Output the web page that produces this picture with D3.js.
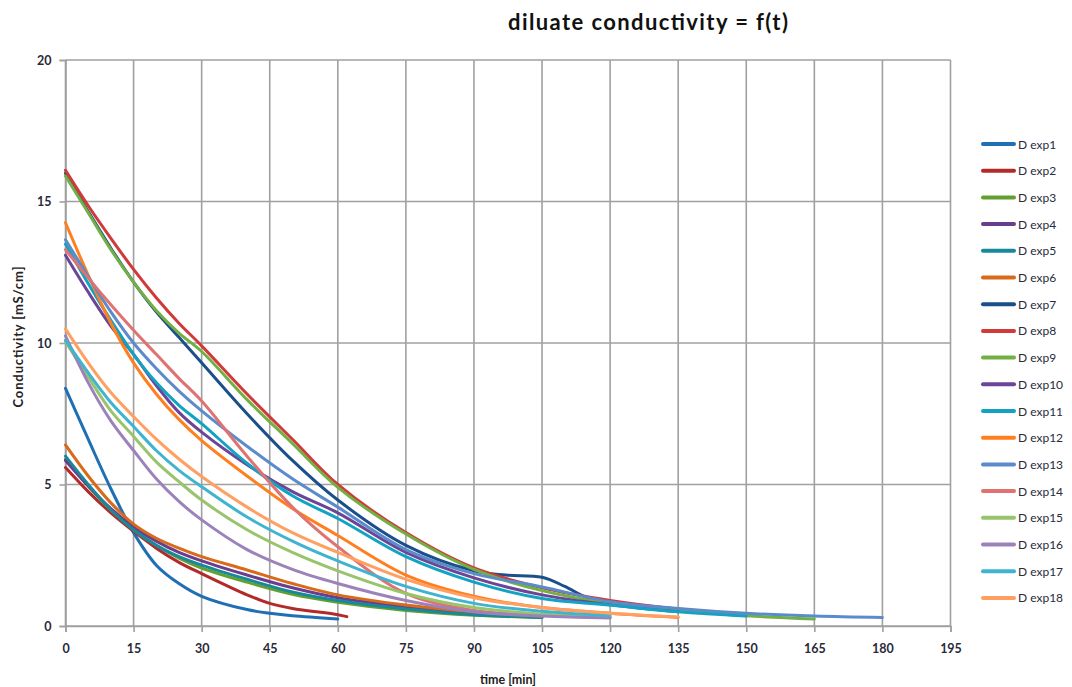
<!DOCTYPE html>
<html>
<head>
<meta charset="utf-8">
<script src="https://cdn.jsdelivr.net/npm/d3@7"></script>
<style>
  html, body { margin: 0; padding: 0; background: #fff; }
  svg { display: block; }
</style>
</head>
<body>
<svg id="chart" width="1072" height="687"></svg>
<script>
// ---------------- DATA ----------------
const chartTitle = "diluate conductivity = f(t)";
const xTitle = "time [min]";
const yTitle = "Conductivity [mS/cm]";
const xTicks = [0, 15, 30, 45, 60, 75, 90, 105, 120, 135, 150, 165, 180, 195];
const yTicks = [0, 5, 10, 15, 20];
const seriesNames = ["D exp1","D exp2","D exp3","D exp4","D exp5","D exp6","D exp7","D exp8","D exp9",
  "D exp10","D exp11","D exp12","D exp13","D exp14","D exp15","D exp16","D exp17","D exp18"];

// common time grid [min]; a series ends where its value list ends
const timeGrid = [0, 5, 10, 15, 20, 25, 30, 40, 50, 60, 75, 90, 105, 120, 135, 150, 165, 180];
const timeDexp1 = [0, 5, 10, 15, 20, 25, 30, 40, 45, 50, 60];
const timeDexp2 = [0, 5, 10, 15, 20, 25, 30, 40, 45, 50, 60, 62];
const timeDexp7 = [0, 5, 10, 15, 20, 25, 30, 40, 50, 60, 75, 90, 97, 105, 110, 115, 120];

const dexp1  = [8.4, 6.6, 4.85, 3.3, 2.15, 1.5, 1.05, 0.58, 0.45, 0.36, 0.25];
const dexp2  = [5.6, 4.75, 4.0, 3.35, 2.75, 2.25, 1.85, 1.1, 0.8, 0.62, 0.4, 0.33];
const dexp3  = [5.9, 4.95, 4.1, 3.4, 2.85, 2.4, 2.05, 1.55, 1.12, 0.84, 0.55, 0.38, 0.3];
const dexp4  = [5.85, 4.95, 4.15, 3.5, 3.0, 2.6, 2.3, 1.8, 1.35, 1.0, 0.68, 0.45, 0.32];
const dexp5  = [6.0, 5.0, 4.1, 3.4, 2.85, 2.45, 2.15, 1.65, 1.2, 0.9, 0.6, 0.4, 0.3];
const dexp6  = [6.4, 5.3, 4.35, 3.6, 3.1, 2.75, 2.45, 1.98, 1.5, 1.1, 0.74, 0.5, 0.35];
const dexp7  = [16.0, 14.65, 13.35, 12.15, 11.1, 10.2, 9.3, 7.5, 5.85, 4.45, 2.85, 1.95, 1.8, 1.72, 1.4, 1.0, 0.85];
const dexp8  = [16.1, 14.85, 13.7, 12.6, 11.6, 10.7, 9.9, 8.2, 6.6, 5.0, 3.3, 2.05, 1.35, 0.9, 0.6, 0.42];
const dexp9  = [15.9, 14.6, 13.3, 12.15, 11.15, 10.35, 9.7, 8.0, 6.45, 4.9, 3.25, 2.0, 1.25, 0.8, 0.57, 0.36, 0.25];
const dexp10 = [13.1, 11.8, 10.6, 9.6, 8.5, 7.55, 6.85, 5.7, 4.75, 4.0, 2.6, 1.7, 1.1, 0.75, 0.5];
const dexp11 = [13.5, 12.1, 10.8, 9.6, 8.6, 7.8, 7.15, 5.75, 4.6, 3.8, 2.45, 1.55, 0.97, 0.74, 0.5, 0.35];
const dexp12 = [14.25, 12.4, 10.7, 9.3, 8.2, 7.3, 6.55, 5.3, 4.15, 3.2, 1.8, 1.05, 0.65, 0.45, 0.3];
const dexp13 = [13.65, 12.35, 11.1, 10.0, 9.1, 8.3, 7.6, 6.35, 5.2, 4.2, 2.7, 1.85, 1.38, 0.86, 0.62, 0.45, 0.35, 0.3];
const dexp14 = [13.3, 12.3, 11.35, 10.45, 9.6, 8.75, 7.95, 6.0, 4.2, 2.8, 1.15, 0.55, 0.38, 0.3];
const dexp15 = [10.05, 8.8, 7.6, 6.7, 5.8, 5.1, 4.45, 3.4, 2.6, 1.95, 1.15, 0.65, 0.42, 0.3];
const dexp16 = [10.25, 8.6, 7.25, 6.2, 5.2, 4.4, 3.75, 2.7, 2.0, 1.5, 0.9, 0.5, 0.35, 0.28];
const dexp17 = [10.1, 8.95, 7.9, 7.05, 6.2, 5.5, 4.92, 3.85, 3.0, 2.3, 1.4, 0.8, 0.52, 0.36];
const dexp18 = [10.5, 9.3, 8.25, 7.4, 6.6, 5.9, 5.28, 4.2, 3.3, 2.6, 1.65, 1.0, 0.65, 0.45, 0.32];

const seriesValues = [dexp1, dexp2, dexp3, dexp4, dexp5, dexp6, dexp7, dexp8, dexp9,
  dexp10, dexp11, dexp12, dexp13, dexp14, dexp15, dexp16, dexp17, dexp18];
const seriesTimes = [timeDexp1, timeDexp2, timeGrid, timeGrid, timeGrid, timeGrid, timeDexp7, timeGrid, timeGrid,
  timeGrid, timeGrid, timeGrid, timeGrid, timeGrid, timeGrid, timeGrid, timeGrid, timeGrid];

// ---------------- STYLE ----------------
const seriesColors = ["#1f6fb5","#b22a2a","#63a030","#6a3d8f","#17899b","#d86a1a","#1a4f8a","#d03a3a","#72b043",
  "#6b4596","#12a3c3","#ff7f1e","#5b8bcb","#e07272","#98c46c","#9c82ba","#40b4cf","#ffa062"];

const W = 1072, H = 687;
const margin = { left: 65.5, right: W - 950.5, top: 60, bottom: H - 626 };
const fontFam = "Lato, 'Open Sans', sans-serif";

const svg = d3.select("#chart");
const x = d3.scaleLinear().domain([0, 195]).range([margin.left, W - margin.right]);
const y = d3.scaleLinear().domain([0, 20]).range([H - margin.bottom, margin.top]);

const gridColor = "#a0a0a0";

// grid
svg.append("g").selectAll("line").data(xTicks).join("line")
  .attr("x1", d => x(d)).attr("x2", d => x(d))
  .attr("y1", y(20)).attr("y2", y(0))
  .attr("stroke", gridColor).attr("stroke-width", 1.6);
svg.append("g").selectAll("line").data(yTicks).join("line")
  .attr("x1", x(0)).attr("x2", x(195))
  .attr("y1", d => y(d)).attr("y2", d => y(d))
  .attr("stroke", gridColor).attr("stroke-width", 1.6);

// axes
const xAxis = d3.axisBottom(x).tickValues(xTicks).tickSize(6).tickPadding(12);
const yAxis = d3.axisLeft(y).tickValues(yTicks).tickSize(6).tickPadding(8);
const gx = svg.append("g").attr("transform", `translate(0,${y(0)})`).call(xAxis);
const gy = svg.append("g").attr("transform", `translate(${x(0)},0)`).call(yAxis);
[gx, gy].forEach(g => {
  g.select(".domain").attr("stroke", gridColor).attr("stroke-width", 1.6);
  g.selectAll(".tick line").attr("stroke", gridColor).attr("stroke-width", 1.6);
  g.selectAll(".tick text").attr("fill", "#2a2a3a").attr("font-family", fontFam)
    .attr("font-weight", "bold").attr("font-size", "12.5px");
});

// lines
const line = d3.line().x(d => x(d[0])).y(d => y(d[1])).curve(d3.curveCatmullRom.alpha(0.5));
seriesValues.forEach((vals, i) => {
  const pts = vals.map((v, j) => [seriesTimes[i][j], v]);
  svg.append("path").attr("d", line(pts)).attr("fill", "none")
    .attr("stroke", seriesColors[i]).attr("stroke-width", 3)
    .attr("stroke-linejoin", "round").attr("stroke-linecap", "round");
});

// titles
svg.append("text").attr("x", 648).attr("y", 30).attr("text-anchor", "middle")
  .attr("font-family", fontFam).attr("font-weight", "bold").attr("font-size", "22px")
  .attr("textLength", 280).attr("lengthAdjust", "spacing")
  .attr("fill", "#111").text(chartTitle);
svg.append("text").attr("x", 508).attr("y", 684).attr("text-anchor", "middle")
  .attr("font-family", fontFam).attr("font-weight", "bold").attr("font-size", "12.5px")
  .attr("fill", "#222").text(xTitle);
svg.append("text").attr("transform", `translate(23,337) rotate(-90)`).attr("text-anchor", "middle")
  .attr("font-family", fontFam).attr("font-weight", "bold").attr("font-size", "13px")
  .attr("textLength", 141).attr("lengthAdjust", "spacing")
  .attr("fill", "#222").text(yTitle);

// legend
const legY0 = 144, legStep = 26.7;
const leg = svg.append("g").selectAll("g").data(seriesNames).join("g")
  .attr("transform", (d, i) => `translate(0,${legY0 + i * legStep})`);
leg.append("line").attr("x1", 983).attr("x2", 1014).attr("y1", 0).attr("y2", 0)
  .attr("stroke", (d, i) => seriesColors[i]).attr("stroke-width", 4).attr("stroke-linecap", "round");
leg.append("text").attr("x", 1018).attr("y", 4.5).attr("font-family", fontFam)
  .attr("font-size", "12px").attr("fill", "#2a2a3a").text(d => d);
</script>
</body>
</html>
